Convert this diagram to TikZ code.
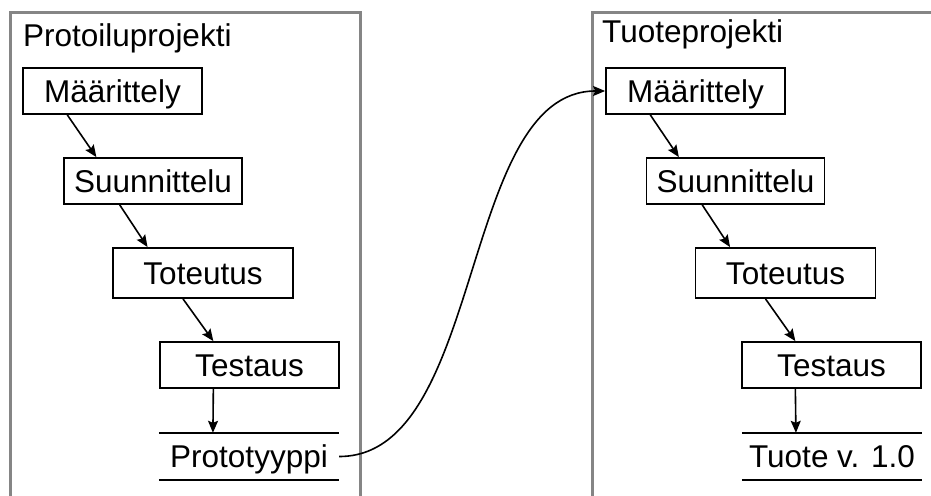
\documentclass[tikz,border=0pt]{standalone}
\usepackage{fontspec}
\setmainfont{Liberation Sans}
\usetikzlibrary{arrows.meta,calc}
\begin{document}
\begin{tikzpicture}[x=1pt,y=-1pt,
  txt/.style={font=\fontsize{31.5}{36}\selectfont},
  box/.style={txt,draw=black,line width=1.8pt,minimum width=179pt,minimum height=46pt,
    inner sep=0pt,text height=25pt,text depth=3pt},
  outbox/.style={txt,minimum width=180pt,minimum height=47pt,inner sep=0pt,text height=25pt,text depth=3pt},
  frame/.style={draw=black!48,line width=3pt},
  flow/.style={draw=black,line width=1.6pt,-{Stealth[length=12pt,width=10pt,inset=2pt]}},
  rule/.style={draw=black,line width=1.8pt}]
\useasboundingbox (0,0) rectangle (931,495);
\clip (0,0) rectangle (931,495);
% frames
\path[frame] (10,560) -- (10,13) -- (360,13) -- (360,560);
\path[frame] (592,560) -- (592,13) -- (1000,13);
\node[txt,anchor=base west,inner sep=0pt] (title1) at (23,47) {Protoiluprojekti};
\node[txt,anchor=base west,inner sep=0pt] (title2) at (602,43) {Tuoteprojekti};
% left column
\node[box] (m1) at (112.5,91) {Määrittely};
\node[box,minimum width=178pt] (s1) at (153,181) {Suunnittelu};
\node[box,minimum width=180pt,minimum height=50pt] (t1) at (203,273) {Toteutus};
\node[box] (te1) at (249.5,365) {Testaus};
\node[outbox] (p1) at (249,456.5) {Prototyyppi};
\path[rule] (p1.north west) -- (p1.north east);
\path[rule] (p1.south west) -- (p1.south east);
% right column
\node[box] (m2) at (695.5,91) {Määrittely};
\node[box,minimum width=178pt] (s2) at (735.5,181) {Suunnittelu};
\node[box,minimum width=180pt,minimum height=50pt] (t2) at (785.5,273) {Toteutus};
\node[box] (te2) at (831.5,365) {Testaus};
\node[outbox] (p2) at (832,456.5) {Tuote v. 1.0};
\path[rule] (p2.north west) -- (p2.north east);
\path[rule] (p2.south west) -- (p2.south east);
% flows
\foreach \c in {1,2}{
  \path[flow] ($(m\c.south west)!0.25!(m\c.south east)$) -- ($(s\c.north west)!0.185!(s\c.north east)$);
  \path[flow] ($(s\c.south west)!0.315!(s\c.south east)$) -- ($(t\c.north west)!0.195!(t\c.north east)$);
  \path[flow] ($(t\c.south west)!0.39!(t\c.south east)$) -- ($(te\c.north west)!0.3!(te\c.north east)$);
  \path[flow] ($(te\c.south west)!0.3!(te\c.south east)$) -- ($(p\c.north west)!0.3!(p\c.north east)$);
}
\path[flow] (p1.east) .. controls +(146,0) and +(-146,0) .. (m2.west);
\end{tikzpicture}
\end{document}
